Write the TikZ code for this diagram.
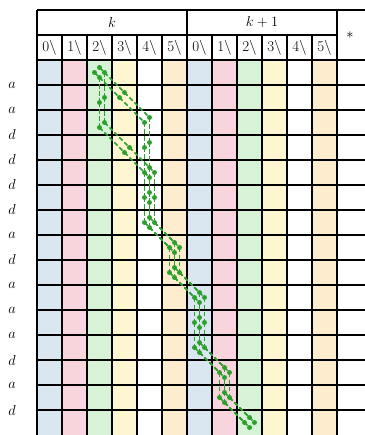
\documentclass[tikz,border=0pt]{standalone}
\definecolor{cb}{RGB}{218,230,240}
\definecolor{cp}{RGB}{248,212,221}
\definecolor{cg}{RGB}{215,242,215}
\definecolor{cy}{RGB}{253,246,208}
\definecolor{co}{RGB}{253,236,206}
\definecolor{pg}{RGB}{44,160,44}
\tikzset{
  gl/.style={line width=1.4pt, black},
  pth/.style={pg, line width=1.6pt, dash pattern=on 4.5pt off 2.5pt},
}
\newcommand\gpathlines[2]{%
  \begin{scope}[shift={#1}]
    \foreach \cc [count=\r from 0, remember=\cc as \pc (initially 0)] in #2 {
      \ifnum\r>0 \draw[pth] (\pc,\r-1) -- (\cc,\r); \fi
    }
  \end{scope}}
\newcommand\gpathdots[2]{%
  \begin{scope}[shift={#1}]
    \foreach \cc [count=\r from 0] in #2 { \fill[pg] (\cc,\r) circle (2.5pt); }
  \end{scope}}
\begin{document}
\begin{tikzpicture}[x=25pt,y=-25pt,font=\fontsize{15}{17}\selectfont]
\useasboundingbox (-1.98,-2.9) rectangle (12.58,14.5);
% column fills
\foreach \c/\col in {0/cb,1/cp,2/cg,3/cy,5/co,6/cb,7/cp,8/cg,9/cy,11/co}
  \fill[\col] (\c-0.5,-0.5) rectangle (\c+0.5,14.6);
% grid (right border lies just outside the cropped picture)
\draw[gl] (-0.5,-2.5) -- (12.7,-2.5);
\draw[gl] (-0.5,-1.5) -- (11.5,-1.5);
\foreach \r in {-0.5,0.5,...,13.5} \draw[gl] (-0.5,\r) -- (12.7,\r);
\foreach \c in {-0.5,5.5,11.5,12.66} \draw[gl] (\c,-2.5) -- (\c,14.6);
\foreach \c in {0.5,1.5,2.5,3.5,4.5,6.5,7.5,8.5,9.5,10.5} \draw[gl] (\c,-1.5) -- (\c,14.6);
% headers
\node (hk) at (2.5,-2) {$k$};
\node (hk1) at (8.5,-2) {$k+1$};
\node (hstar) at (12.02,-1.5) {$*$};
\foreach \c in {0,...,5} {
  \node (ha\c) at (\c,-1) {\c\textbackslash};
  \node (hb\c) at (\c+6,-1) {\c\textbackslash};
}
% row labels
\foreach \l [count=\i from 0] in {a,a,d,d,d,d,a,d,a,a,a,d,a,d}
  \node (lab\i) at (-1.5,\i+0.5) {$\l$};
% green paths
\def\pNW{2,3,4,4,4,4,4,5,5,6,6,6,7,7,8}
\def\pES{2,2,2,3,4,4,4,5,5,6,6,6,7,7,8}
\gpathlines{(0,-0.2)}{\pNW}
\gpathlines{(-0.2,0)}{\pNW}
\gpathlines{(0.2,0)}{\pES}
\gpathlines{(0,0.2)}{\pES}
\gpathdots{(0,-0.2)}{\pNW}
\gpathdots{(-0.2,0)}{\pNW}
\gpathdots{(0.2,0)}{\pES}
\gpathdots{(0,0.2)}{\pES}
\end{tikzpicture}
\end{document}
